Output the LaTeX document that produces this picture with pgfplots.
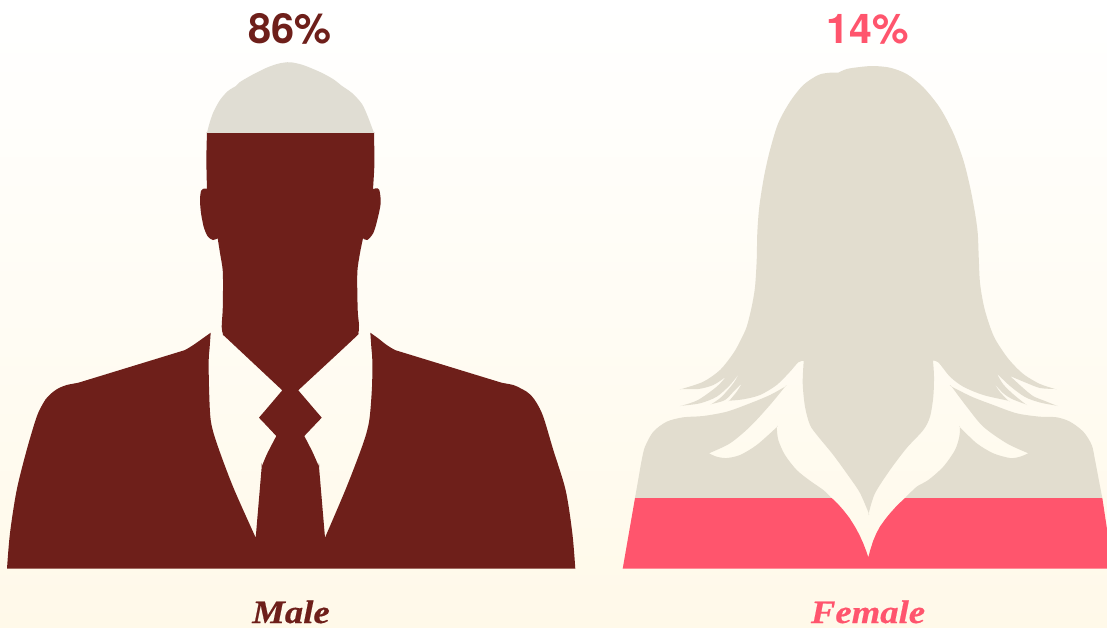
\documentclass[border=0pt]{standalone}
\usepackage{pgfplots}
\usepackage{graphicx}
\usepackage{fontspec}
\pgfplotsset{compat=1.18}
\setmainfont{TeX Gyre Heros}
\newfontfamily\lab[BoldItalicFeatures={FakeBold=0.5}]{Liberation Serif}
\definecolor{maroon}{HTML}{6E1F1A}
\definecolor{rosy}{HTML}{FF556D}
\definecolor{mgrey}{HTML}{E0DDD3}
\definecolor{fgrey}{HTML}{E2DDCF}
\definecolor{bgtop}{HTML}{FFFFFF}
\definecolor{bgbot}{HTML}{FFF9E9}
\begin{document}
\begin{tikzpicture}[x=1pt,y=1pt]
\shade[top color=bgtop,bottom color=bgbot,shading angle=0] (0,0) rectangle (1107,627);
\begin{axis}[at={(0,0)},anchor=south west,scale only axis,width=1107pt,height=627pt,
  xmin=0,xmax=1107,ymin=0,ymax=627,y dir=reverse,hide axis,clip=true]
% Male, empty part above the 86% level
\addplot[fill=mgrey,draw=none,smooth] coordinates {
(207,133)(209,125)(213,113)(220,100)(228,91)(236,86)(236,86)(240,82)(252,75)(266,68)(277,64)(284,62.6)(291,62.3)
(303,65)(320,72)(333,79)(342,86)(342,86)(352,93)(362,104)(368,117)(371,125)(374,133)} --cycle;
% Male, filled part
\addplot[fill=maroon,draw=none,smooth] coordinates {
(575.3,568.7)(572.3,533)(565.6,490)(553.3,450)(543.3,416.7)(536.7,403)(532,396.5)(526.7,391.7)(520,388)(513.3,385)(501.7,382.7)(496,381)(400,351.6)(395,350)(386.7,345)(377.6,337.9)(372.8,334.5)(370.3,332.7)(370.3,332.7)(370.7,338)(371.4,348)
(372.3,360)(372,386.7)(369.3,420)(363.3,443)(346.7,486.7)(325,537.7)(325,537.7)(319,466.7)(319,466.7)(312.5,452)(304.3,436)(304.3,436)(315.5,424.2)(319.6,419.9)(321.7,417.7)(321.7,417.7)(319.8,415.4)(315.9,410.9)(298.3,390.3)(298.3,390.3)(302,386.8)
(354,338.5)(358.3,333.3)(359,325)(357.7,310)(357.3,273)(360,253)(363,238.3)(363,238.3)(367.3,240)(373.3,233)(377.3,220)(380.7,203)(379.3,190)(376,188.3)(373,189.3)(373,189.3)(374.3,166.7)(374.3,150)(374,133)(374,133)
(371,133)(365,133)(351,133)(321,133)(291,133)(260,133)(230,133)(216,133)(210,133)(207,133)(207,133)(206.5,150)(206.5,170)(207,189)(207,189)(206,188.5)(203,188.8)(201,191)(200,200)(201,213)(204,228)(208,236.7)(213,240)(217.7,238.3)(217.7,238.3)
(220,253)(222.7,270)(223,290)(222.7,310)(221.7,327)(223.3,335)(227,338.5)(278,386.3)(282.3,390.3)(282.3,390.3)(264.8,410.9)(260.9,415.4)(259,417.7)(259,417.7)(261.1,419.9)(265.2,424.2)(276.3,436)(276.3,436)(267,454)(261.7,466.7)(261.7,466.7)(255.7,537.7)(255.7,537.7)
(233,486.7)(216.7,443)(210.7,420)(209,386.7)(208.7,360)(209.6,348)(210.3,338)(210.7,332.7)(210.7,332.7)(208.2,334.5)(203.4,337.9)(193.3,345)(185,350)(180,351.6)(84,381)(78.3,382.7)(66.7,385)(59,388)(53.3,391.7)(47.5,397)(43.3,403)(36.7,416.7)
(26.7,450)(16.7,490)(10,533)(7,568.7)
} --cycle;
% Female hair
\addplot[fill=fgrey,draw=none,smooth] coordinates {
(838.3,72.7)(838.3,72.7)(846.7,69)(860,67)(873.3,66)(890,67.7)(906.7,74)(923.3,87.3)(940,108)(953.3,133)(963.3,160)(970,186.7)(975,213)(977.7,233)(978.7,256.7)(980,283)(984,306.7)(990,326.7)(995.7,340)
(1006.7,356.7)(1016.7,368)(1026,376)(1040,384)(1055,389)(1055,389)(1040,388)(1026.7,383)(1010,376)(1010,376)(1022,387)(1033,396)(1045,401)(1056.7,405.7)(1056.7,405.7)(1040,402.5)(1025,397)(1010,386)(996.7,373.3)(996.7,373.3)(1003,384)(1013,394)(1025.7,404.3)(1025.7,404.3)(1012,399)(1003.3,393.3)(994,383.3)(994,383.3)(1000,392)(1008.3,400.7)(1008.3,400.7)
(983.3,395)(963.3,386.7)(950,376.7)(938.3,362.3)(933,360.7)(933,360.7)(934,376.7)(933.3,396.7)(930,416.7)(923.3,430)(906.7,448)(890,470)(875,493.3)(868.7,513)(868.7,513)
(860,493)(850,478)(833.3,455)(818.3,436.7)(810,425)(805,406.7)(802.7,383.3)(803.7,360.7)(803.7,360.7)(798.3,362.3)(790,371.7)(776.7,385)(760,395)(743.3,399.3)(729.3,400.7)(729.3,400.7)(736.7,391.7)(742,383.3)(742,383.3)(735,390)(725,400)(711.7,404)(711.7,404)(721.7,396.7)(733.3,383.3)(739.3,373.3)(739.3,373.3)(730,385)(716.7,396.7)(700,403.3)(681.7,405.7)(681.7,405.7)(698,400)(716.7,386.7)(726,376.7)(726,376.7)(713.3,385)(698.3,389)(681.7,389)(681.7,389)(703.3,381.7)(720,370)(733.3,353.3)(740.7,340)(746.7,326.7)(751.7,306.7)(755,287)(756.7,260)(757.3,233)(759.3,206.7)(764,176.7)(770,150)(778.3,123)(790,101.7)(803.3,85)(818.3,75)(830,72.7)(838.3,72.7)
} --cycle;
% Female body, left
\addplot[fill=fgrey,draw=none,smooth] coordinates {
(635,498)(638,481)(641.7,460)(645,446.7)(653.3,431.7)(666.7,421.7)(683.3,417.3)(703.3,416)(726.7,411.7)(750,403.3)(770,395)(785,386.7)(785,386.7)
(770,405)(750,426.7)(730,443.3)(709,453.3)(709,453.3)(716.7,456.7)(726.7,458)(740,455)(756.7,445)(776.7,427.3)(776.7,427.3)(778.3,440)(785,455)(796.7,470)(810,480.7)(823.3,490)(831.7,498)} --cycle;
% Female body, right
\addplot[fill=fgrey,draw=none,smooth] coordinates {
(1102.3,498)(1099,481)(1095,460)(1091.7,445)(1083.3,431.7)(1070,421.7)(1056.7,417.3)(1040,416.7)(1016.7,413.3)(993.3,405)(971.7,396.7)(951.7,386.7)(951.7,386.7)
(966.7,406.7)(983.3,426.7)(1006.7,443.3)(1028.3,453.3)(1028.3,453.3)(1020,456.7)(1010,458)(993.3,453.3)(976.7,443.3)(960,427.3)(960,427.3)(959.3,436.7)(955,450)(943.3,466.7)(928.3,480)(916.7,486.7)(905,498)} --cycle;
% Female, filled part at the 14% level
\addplot[fill=rosy,draw=none] coordinates {
(635,498)(622.7,568.7)(1113,568.7)(1102.3,498)(905,498)(897,505.5)(890,513.3)(885,519.5)(880,526.5)(876.5,533)(873.3,540.5)(870.5,549)(868.3,557.3)(866,550.5)(863.3,543.5)(859.5,535)(855,526.7)(849.5,518)(843.3,510)(837.5,503.5)(831.7,498)} --cycle;
\node[anchor=base,text=maroon,inner sep=0pt] at (axis cs:290,43) {\fontsize{41.5}{42}\selectfont\bfseries 86\%};
\node[anchor=base,text=rosy,inner sep=0pt] at (axis cs:868,43) {\fontsize{41}{41}\selectfont\bfseries 14\%};
\node[anchor=base,text=maroon,inner sep=0pt,text depth=0pt] at (axis cs:291,623) {\scalebox{1.13}[1]{\lab\fontsize{32.5}{33}\selectfont\bfseries\itshape Male}};
\node[anchor=base,text=rosy,inner sep=0pt,text depth=0pt] at (axis cs:868,623) {\scalebox{1.13}[1]{\lab\fontsize{32.5}{33}\selectfont\bfseries\itshape Female}};
\end{axis}
\end{tikzpicture}
\end{document}
